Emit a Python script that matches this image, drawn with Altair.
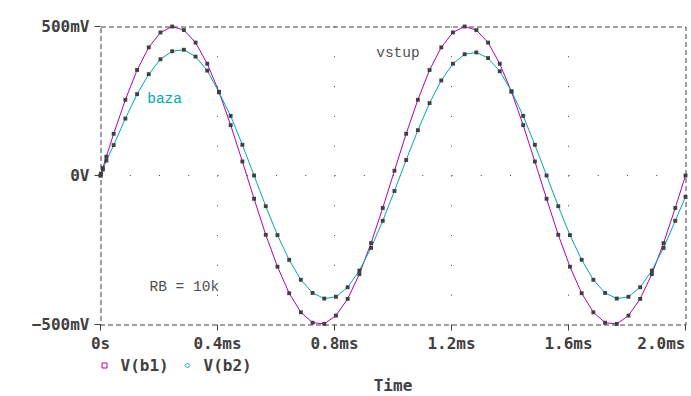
import altair as alt
import pandas as pd

# time samples (ms)
t_ms = [0, 0.002, 0.008, 0.02, 0.045,
        0.085, 0.125, 0.165, 0.205, 0.245, 0.285, 0.325, 0.365, 0.405, 0.445,
        0.485, 0.525, 0.565, 0.605, 0.645, 0.685, 0.725, 0.765, 0.805, 0.845,
        0.885, 0.925, 0.965, 1.005, 1.045,
        1.085, 1.125, 1.165, 1.205, 1.245, 1.285, 1.325, 1.365, 1.405, 1.445,
        1.485, 1.525, 1.565, 1.605, 1.645, 1.685, 1.725, 1.765, 1.805, 1.845,
        1.885, 1.925, 1.965, 2.0]

# V(b1) in mV
v_b1 = [0, 6, 25, 63, 140,
        254, 354, 430, 480, 500, 488, 446, 375, 281, 169,
        47, -78, -199, -306, -395, -459, -494, -498, -470, -414,
        -331, -227, -109, 16, 140,
        254, 354, 430, 480, 500, 488, 446, 375, 281, 169,
        47, -78, -199, -306, -395, -459, -494, -498, -470, -414,
        -331, -227, -109, 0]

# V(b2) in mV
v_b2 = [0, 5, 20, 50, 102,
        191, 273, 340, 390, 417, 422, 399, 352, 279, 200,
        103, 0, -103, -200, -283, -350, -394, -413, -407, -375,
        -319, -243, -152, -52, 52,
        152, 243, 319, 375, 407, 413, 394, 350, 283, 200,
        103, 0, -103, -200, -283, -350, -394, -413, -407, -375,
        -319, -243, -152, -72]

series_names = ["V(b1)", "V(b2)"]
series_colors = ["#b000b8", "#00a8b0"]

x_ticks = [0, 0.4, 0.8, 1.2, 1.6, 2.0]
y_ticks = [-500, 0, 500]

note_text = ["vstup", "baza", "RB = 10k"]
note_t = [0.9425, 0.1596, 0.1675]
note_v = [396, 242, -386]
note_kind = ["note", "V(b2)", "note"]

df = pd.DataFrame({
    "t": t_ms * 2,
    "v": v_b1 + v_b2,
    "series": [series_names[0]] * len(t_ms) + [series_names[1]] * len(t_ms),
})
notes = pd.DataFrame({"text": note_text, "t": note_t, "v": note_v, "kind": note_kind})

GRAY = "#404040"
FONT = "DejaVu Sans Mono"

x_enc = alt.X(
    "t:Q",
    scale=alt.Scale(domain=[0, 2], nice=False, zero=False),
    axis=alt.Axis(
        values=x_ticks,
        labelExpr="datum.value == 0 ? '0s' : format(datum.value, '.1f') + 'ms'",
        title="Time",
        domain=False,
        tickSize=6,
        tickColor=GRAY,
        labelColor=GRAY,
        labelFont=FONT,
        labelFontSize=16,
        labelFontWeight="bold",
        labelPadding=5,
        labelAlign={"condition": {"test": "datum.value >= 2", "value": "right"}, "value": "center"},
        grid=True,
        gridColor=GRAY,
        gridDash=[1, 28.8],
        gridOpacity={"condition": {"test": "datum.value > 0 && datum.value < 2", "value": 1}, "value": 0},
        titleFont=FONT,
        titleFontSize=16,
        titleFontWeight="bold",
        titleColor=GRAY,
        titleBaseline="alphabetic",
        titleY=66,
    ),
)
y_enc = alt.Y(
    "v:Q",
    scale=alt.Scale(domain=[-500, 500], nice=False, zero=False),
    axis=alt.Axis(
        values=y_ticks,
        labelExpr="datum.value == 0 ? '0V' : format(datum.value, 'd') + 'mV'",
        title=None,
        domain=False,
        tickSize=6,
        tickColor=GRAY,
        labelColor=GRAY,
        labelFont=FONT,
        labelFontSize=16,
        labelFontWeight="bold",
        labelPadding=5,
        grid=True,
        gridColor=GRAY,
        gridDash=[1, 28.25],
        gridOpacity={"condition": {"test": "datum.value == 0", "value": 1}, "value": 0},
    ),
)

base = alt.Chart(df)

lines = base.mark_line(strokeWidth=1).encode(
    x=x_enc,
    y=y_enc,
    color=alt.Color("series:N", scale=alt.Scale(domain=series_names, range=series_colors), legend=None),
)

markers = base.mark_point(shape="square", filled=True, size=15, color=GRAY, opacity=1).encode(
    x="t:Q", y="v:Q", detail="series:N"
)

leg = alt.Legend(
    title=None,
    orient="none",
    legendX=-4,
    legendY=331,
    direction="horizontal",
    padding=0,
    labelFont=FONT,
    labelFontSize=16,
    labelFontWeight="bold",
    labelColor=GRAY,
    labelOffset=8,
    columnPadding=10,
    symbolSize=25,
    symbolStrokeWidth=1,
    symbolOpacity=1,
)

legend_layer = base.transform_filter("datum.t < 0").mark_point(filled=False, size=25, strokeWidth=1).encode(
    x="t:Q",
    y="v:Q",
    color=alt.Color("series:N", scale=alt.Scale(domain=series_names, range=series_colors), legend=leg),
    shape=alt.Shape("series:N", scale=alt.Scale(domain=series_names, range=["square", "diamond"]), legend=leg),
)

text_layer = alt.Chart(notes).mark_text(
    align="left", baseline="alphabetic", font="Liberation Mono", fontSize=14.5
).encode(
    x="t:Q",
    y="v:Q",
    text="text:N",
    color=alt.Color("kind:N", scale=alt.Scale(domain=["note", "V(b2)"], range=["#505050", series_colors[1]]), legend=None),
)

chart = alt.layer(lines, markers, text_layer, legend_layer).resolve_scale(
    color="independent", shape="independent"
).properties(
    width=585,
    height=298,
    autosize=alt.AutoSizeParams(type="none"),
    padding={"left": 100.5, "top": 26.5, "right": 5.5, "bottom": 71.5},
    background="white",
).configure_axis(
    translate=0,
).configure_view(
    stroke=GRAY,
    strokeDash=[5, 3],
    strokeWidth=1,
)

chart.save("out.html", embed_options={"renderer": "svg", "actions": False})
